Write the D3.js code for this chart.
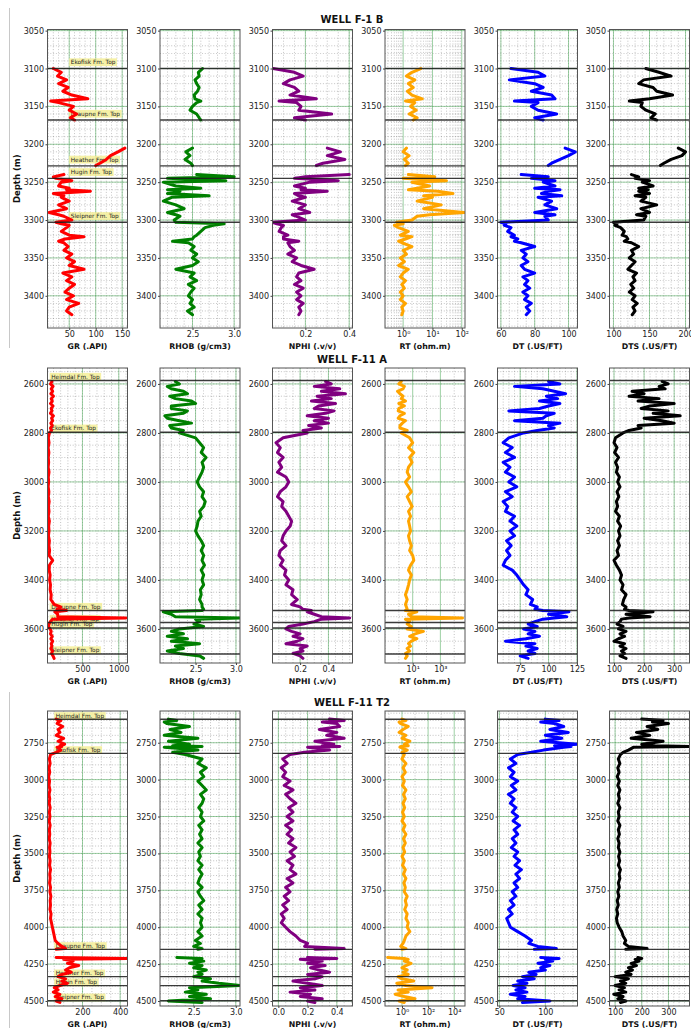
<!DOCTYPE html>
<html><head><meta charset="utf-8">
<script src="https://cdn.jsdelivr.net/npm/d3@7"></script>
<style>body{margin:0;background:#fff} svg{display:block} text{font-family:"DejaVu Sans",sans-serif}</style>
</head><body><svg id="chart" width="691" height="1028"></svg>
<script>
// ---------------- DATA ----------------
const wellNames = ["WELL F-1 B", "WELL F-11 A", "WELL F-11 T2"];
const logLabels = ["GR (.API)", "RHOB (g/cm3)", "NPHI (.v/v)", "RT (ohm.m)", "DT (.US/FT)", "DTS (.US/FT)"];
const logColors = ["red", "green", "purple", "orange", "blue", "black"];

// WELL F-1 B
const f1bDepth = [3100,3105,3110,3115,3120,3125,3130,3135,3140,3143,3145,3150,3155,3160,3165,3168,null,3205,3210,3215,3220,3225,3228,null,3240,3243,3245,3248,3250,3255,3258,3260,3262,3265,3268,3270,3275,3280,3285,3290,3293,3295,3300,3303,3305,3307,3310,3315,3320,3322,3325,3328,3330,3335,3340,3345,3350,3355,3360,3365,3370,3375,3380,3385,3390,3395,3400,3405,3410,3415,3420,3425];
const f1bGR = [20,35,28,45,30,48,38,55,85,15,30,58,50,64,52,60,null,155,142,128,120,108,100,null,40,20,25,55,35,30,50,45,90,20,40,35,50,30,45,12,30,40,55,25,35,50,45,35,50,78,42,30,40,48,40,55,45,60,50,78,38,55,45,60,50,42,58,45,68,50,45,55];
const f1bRHOB = [2.62,2.57,2.58,2.53,2.55,2.58,2.56,2.52,2.53,2.6,2.55,2.5,2.47,2.55,2.58,2.6,null,2.5,2.42,2.47,2.41,2.48,2.5,null,2.55,3.0,2.2,2.9,2.15,2.3,2.6,2.2,2.35,2.2,2.7,2.25,2.15,2.3,2.4,2.2,2.3,2.35,2.28,2.3,2.88,2.75,2.65,2.6,2.55,2.52,2.5,2.26,2.45,2.52,2.48,2.55,2.5,2.57,2.5,2.3,2.52,2.47,2.55,2.45,2.52,2.48,2.45,2.5,2.47,2.52,2.44,2.5];
const f1bNPHI = [0.053,0.15,0.19,0.13,0.1,0.15,0.17,0.13,0.25,0.08,0.16,0.18,0.17,0.32,0.15,0.2,null,0.3,0.36,0.3,0.38,0.28,0.25,null,0.4,0.2,0.15,0.35,0.22,0.15,0.2,0.18,0.3,0.15,0.17,0.2,0.14,0.2,0.17,0.22,0.14,0.16,0.2,0.05,0.07,0.1,0.09,0.08,0.12,0.1,0.1,0.17,0.12,0.13,0.15,0.12,0.16,0.14,0.18,0.24,0.17,0.16,0.18,0.15,0.19,0.16,0.18,0.16,0.19,0.17,0.18,0.17];
const f1bRT = [4,2,1.3,2.5,1.5,2.2,1.4,2,4.5,1.2,2.5,1.8,2.8,1.6,3,2.2,null,1.3,1.0,1.6,1.1,1.5,1.2,null,1.5,12,1,30,2,8,3,1.5,15,50,5,10,3,20,5,120,8,3,2,0.6,1,0.5,0.7,1.5,0.8,2,1.2,0.7,0.9,2,1,1.3,0.8,1.1,0.7,1.5,1,0.8,1.2,0.9,1.1,0.8,1,0.8,1.2,0.9,1,0.9];
const f1bDT = [66,82,86,65,80,85,78,90,92,68,82,78,82,93,80,85,null,98,104,100,95,90,88,null,72,88,78,92,85,92,80,95,88,84,96,82,90,86,93,80,92,86,88,60,63,62,66,64,68,66,70,68,72,80,72,75,73,76,72,74,80,73,76,74,77,73,76,74,78,75,77,75];
const f1bDTS = [145,163,180,142,135,155,160,182,150,122,140,138,145,158,152,160,null,190,200,195,180,170,165,null,125,135,130,150,140,155,135,148,135,150,130,145,138,160,138,150,132,145,142,100,105,102,110,115,112,118,120,115,125,135,125,128,122,130,125,120,132,127,130,124,128,122,130,126,133,127,130,126];
const f1bTops = [3100, 3168, 3228.5, 3245, 3303];
const f1bTopNames = ["Ekofisk Fm. Top", "Draupne Fm. Top", "Heather Fm. Top", "Hugin Fm. Top", "Sleipner Fm. Top"];
const f1bXDomains = [[9,160],[2.11,3.07],[0.05,0.415],[0.24,129],[58,105.3],[94.5,205.5]];
const f1bXTicks = [[50,100,150],[2.5,3.0],[0.2,0.4],[1,10,100],[60,80,100],[100,150,200]];
const f1bYDomain = [3048.5, 3442.5];
const f1bYTicks = [3050,3100,3150,3200,3250,3300,3350,3400];

// WELL F-11 A
const f11aDepth = [2590,2600,2610,2620,2630,2640,2650,2660,2670,2680,2690,2700,2710,2720,2730,2740,2750,2760,2770,2780,2790,2800,2820,2840,2860,2880,2900,2920,2940,2960,2980,3000,3020,3040,3060,3080,3100,3120,3140,3160,3180,3200,3220,3240,3260,3280,3300,3320,3340,3360,3380,3400,3420,3440,3460,3480,3500,3510,3520,3525,3530,3540,3550,3555,3560,3570,3580,3590,3600,3610,3620,3630,3640,3650,3660,3670,3680,3690,3700,3710,3720];
const f11aGR = [80,60,95,70,90,65,100,70,85,60,95,70,80,60,100,75,90,65,85,60,75,45,30,40,28,38,30,35,28,40,30,35,28,38,30,42,32,40,30,45,35,40,32,45,38,48,40,90,45,42,55,48,60,55,70,65,110,200,150,280,120,160,160,1100,90,60,40,30,55,70,60,85,65,90,70,80,65,90,75,95,110];
const f11aRHOB = [2.25,2.3,2.15,2.2,2.35,2.4,2.18,2.25,2.45,2.5,2.2,2.2,2.4,2.35,2.12,2.15,2.3,2.45,2.18,2.2,2.35,2.3,2.5,2.55,2.6,2.57,2.63,2.58,2.6,2.58,2.55,2.52,2.55,2.6,2.58,2.62,2.6,2.55,2.57,2.53,2.52,2.5,2.53,2.57,2.6,2.57,2.6,2.58,2.61,2.57,2.6,2.58,2.6,2.56,2.57,2.55,2.58,2.58,2.6,2.58,2.1,2.2,2.25,3.05,2.5,2.55,2.48,2.6,2.3,2.2,2.35,2.15,2.4,2.2,2.55,2.25,2.35,2.15,2.3,2.55,2.6];
const f11aNPHI = [0.38,0.42,0.3,0.48,0.35,0.52,0.32,0.42,0.28,0.45,0.33,0.3,0.44,0.38,0.25,0.4,0.3,0.4,0.26,0.35,0.22,0.25,0.08,0.03,0.06,0.04,0.08,0.05,0.07,0.04,0.1,0.12,0.1,0.06,0.04,0.08,0.07,0.1,0.12,0.14,0.13,0.1,0.08,0.07,0.1,0.06,0.05,0.08,0.06,0.1,0.09,0.12,0.1,0.15,0.14,0.18,0.14,0.2,0.22,0.28,0.25,0.3,0.35,0.55,0.35,0.3,0.22,0.12,0.1,0.14,0.2,0.15,0.22,0.18,0.1,0.25,0.2,0.22,0.15,0.2,0.22];
const f11aRT = [1.5,1,2.5,2,0.8,1.2,2,1.5,3,1,2.5,1,0.9,2.5,1.2,0.9,3,1.8,1.2,1.2,4,1.5,6,10,5,12,6,9,5,4,6,3,5,8,4,6,9,5,7,5,6,7,5,6,8,6,10,12,7,5,8,6,5,4,3,4,3,3.5,4,3,20,5,8,40000,3,6,4,8,4,60,15,6,20,8,5,7,4,6,3,4,3];
const f11aDT = [100,110,70,95,105,115,98,108,92,110,100,92,65,105,98,95,70,110,100,105,90,78,65,60,68,62,70,60,66,62,70,65,72,62,68,60,64,62,70,66,72,66,70,63,67,63,66,62,60,68,72,75,78,82,80,86,84,90,88,95,118,100,116,105,95,88,82,90,78,88,82,92,80,62,88,80,90,82,88,75,82];
const f11aDTS = [260,280,250,270,160,200,150,250,180,300,220,190,280,230,320,200,260,300,180,190,150,130,105,100,110,102,115,105,112,108,118,112,120,110,116,108,112,105,118,112,122,115,120,112,118,110,115,100,108,118,125,120,130,125,140,132,128,140,135,150,230,140,220,150,125,120,110,130,115,140,120,135,115,100,135,120,140,125,135,120,140];
const f11aTops = [2586, 2797, 3525, 3574, 3596, 3702];
const f11aTopNames = ["Heimdal Fm. Top", "Ekofisk Fm. Top", "Draupne Fm. Top", "Heather Fm. Top", "Hugin Fm. Top", "Sleipner Fm. Top"];
const f11aXDomains = [[19,1120],[2.06,3.05],[0.005,0.57],[0.1,60000],[55,125.5],[85,351]];
const f11aXTicks = [[500,1000],[2.5,3.0],[0.2,0.4],[10,1000],[75,100,125],[100,200,300]];
const f11aYDomain = [2535, 3739];
const f11aYTicks = [2600,2800,3000,3200,3400,3600];

// WELL F-11 T2
const f11t2Depth = [2590,2600,2610,2620,2640,2660,2680,2700,2720,2740,2760,2770,2775,2780,2800,2815,2830,2860,2890,2920,2950,2980,3010,3040,3070,3100,3130,3160,3190,3220,3250,3280,3310,3340,3370,3400,3430,3460,3490,3520,3550,3580,3610,3640,3670,3700,3730,3760,3790,3820,3850,3880,3910,3940,3970,4000,4030,4060,4090,4110,4130,4145,4150,null,4205,4212,4218,4230,4245,4260,4275,4290,4305,4320,4335,4350,4365,4380,4395,4410,4425,4440,4455,4470,4485,4500,4510];
const f11t2GR = [60,85,70,65,95,70,80,60,100,70,105,80,90,65,85,60,30,24,28,22,26,20,25,22,27,22,26,23,28,24,27,23,28,24,26,23,28,25,27,24,28,25,30,26,28,25,30,27,32,28,30,27,33,30,35,40,45,50,55,70,90,110,60,null,60,439,100,150,120,180,130,110,140,90,70,110,90,120,80,50,70,45,80,55,90,60,80];
const f11t2RHOB = [2.2,2.3,2.15,2.18,2.45,2.22,2.35,2.15,2.55,2.2,2.45,2.25,2.6,2.15,2.55,2.25,2.4,2.6,2.55,2.65,2.58,2.62,2.55,2.6,2.65,2.58,2.62,2.6,2.56,2.6,2.58,2.62,2.56,2.6,2.57,2.6,2.55,2.6,2.56,2.58,2.55,2.6,2.56,2.6,2.57,2.55,2.6,2.55,2.58,2.62,2.56,2.6,2.55,2.6,2.58,2.6,2.55,2.6,2.52,2.58,2.5,2.6,2.55,null,2.3,2.6,2.5,2.62,2.45,2.6,2.5,2.65,2.55,2.6,2.5,2.7,2.6,2.8,3.05,2.45,2.55,2.4,2.65,2.45,2.7,2.2,2.6];
const f11t2NPHI = [0.35,0.45,0.3,0.4,0.42,0.28,0.4,0.33,0.45,0.25,0.38,0.3,0.42,0.2,0.35,0.18,0.08,0.03,0.06,0.02,0.05,0.03,0.08,0.04,0.1,0.05,0.08,0.12,0.07,0.1,0.06,0.1,0.05,0.09,0.06,0.1,0.07,0.12,0.08,0.11,0.06,0.1,0.08,0.12,0.06,0.1,0.05,0.08,0.04,0.07,0.03,0.06,0.02,0.04,0.02,0.05,0.08,0.12,0.15,0.2,0.18,0.45,0.25,null,0.2,0.4,0.15,0.3,0.2,0.32,0.22,0.28,0.35,0.2,0.3,0.25,0.1,0.2,0.3,0.15,0.25,0.08,0.22,0.15,0.3,0.2,0.25];
const f11t2RT = [1,2,0.6,0.8,3,1.2,0.6,2,1,4,1.5,3,0.8,0.7,2.5,1,1.5,1,2,1.2,1.8,1,1.5,1.1,2,1.3,1.8,1.2,1.6,1.1,1.5,1,1.7,1.2,2,1.3,1.8,1.2,1.6,1,1.5,1.1,1.8,1.3,2,1.4,1.8,1.5,2.5,1.8,2.2,1.6,2.5,2,3,2.5,4,2,1.5,1.2,0.8,2,1,null,0.08,1.5,3,1.5,5,2,1,2.5,1.2,3,0.5,1,8,0.4,2,200,0.5,3,0.3,1.5,10,0.6,1.5];
const f11t2DT = [100,115,95,110,120,105,125,100,118,95,135,110,128,120,98,85,70,62,68,60,66,62,70,63,68,60,66,62,68,64,70,65,72,66,70,64,68,63,70,66,72,67,74,68,72,66,70,64,68,62,66,60,64,58,60,62,70,78,85,82,92,112,88,null,95,115,100,108,92,105,95,100,82,90,75,88,70,80,65,78,68,80,62,78,70,105,75];
const f11t2DTS = [200,280,240,300,220,260,180,230,160,280,200,250,379,170,150,130,120,112,118,110,115,108,116,110,118,112,116,110,118,112,115,110,118,112,116,110,115,112,118,113,117,112,120,115,118,112,116,110,114,108,112,106,110,105,108,115,125,130,140,135,150,220,140,null,185,200,175,190,160,180,150,165,140,160,100,150,120,140,100,135,115,140,95,130,110,140,120];
const f11t2Tops = [2591, 2822, 4150, 4335, 4396, 4498];
const f11t2TopNames = ["Heimdal Fm. Top", "Ekofisk Fm. Top", "Draupne Fm. Top", "Heather Fm. Top", "Hugin Fm. Top", "Sleipner Fm. Top"];
const f11t2XDomains = [[14,439],[2.1,3.05],[-0.04,0.507],[0.05,67000],[48,135],[79,379]];
const f11t2XTicks = [[200,400],[2.5,3.0],[0.0,0.2,0.4],[1,100,10000],[50,100],[100,200,300]];
const f11t2YDomain = [2535, 4534];
const f11t2YTicks = [2750,3000,3250,3500,3750,4000,4250,4500];

// ---------------- LAYOUT / DRAWING ----------------
const svg = d3.select("#chart");
svg.append("rect").attr("width", 691).attr("height", 1028).attr("fill", "#fff");
const trackLeft = [47.5, 160, 272.5, 385, 497.5, 609.5];
const trackW = 80;

const wells = [
  { title: wellNames[0], depth: f1bDepth, logs: [f1bGR, f1bRHOB, f1bNPHI, f1bRT, f1bDT, f1bDTS],
    xDom: f1bXDomains, xTicks: f1bXTicks, yDom: f1bYDomain, yTicks: f1bYTicks, tops: f1bTops, topNames: f1bTopNames,
    L: { top: 29.5, bottom: 328, titleY: 23, sep: [8, 348], yMinor: 10, xMinor: [10, 0.1, 0.05, "subs", 5, 10] } },
  { title: wellNames[1], depth: f11aDepth, logs: [f11aGR, f11aRHOB, f11aNPHI, f11aRT, f11aDT, f11aDTS],
    xDom: f11aXDomains, xTicks: f11aXTicks, yDom: f11aYDomain, yTicks: f11aYTicks, tops: f11aTops, topNames: f11aTopNames,
    L: { top: 368, bottom: 663, titleY: 363, sep: null, yMinor: 50, xMinor: [100, 0.1, 0.05, "decades", 5, 20] } },
  { title: wellNames[2], depth: f11t2Depth, logs: [f11t2GR, f11t2RHOB, f11t2NPHI, f11t2RT, f11t2DT, f11t2DTS],
    xDom: f11t2XDomains, xTicks: f11t2XTicks, yDom: f11t2YDomain, yTicks: f11t2YTicks, tops: f11t2Tops, topNames: f11t2TopNames,
    L: { top: 711, bottom: 1006, titleY: 706, sep: [692, 1028], yMinor: 50, xMinor: [50, 0.1, 0.05, "decades", 10, 20] } }
];

const supMap = {"-2":"⁻²","-1":"⁻¹","0":"⁰","1":"¹","2":"²","3":"³","4":"⁴","5":"⁵"};
const fmts = [d3.format("d"), d3.format(".1f"), d3.format(".1f"),
  v => "10" + supMap[String(Math.round(Math.log10(v)))], d3.format("d"), d3.format("d")];

function stepRange(d0, d1, step) {
  const a = Math.ceil(d0 / step - 1e-9), b = Math.floor(d1 / step + 1e-9);
  return d3.range(a, b + 1).map(k => +(k * step).toFixed(6));
}

wells.forEach((w, wi) => {
  const L = w.L;
  const y = d3.scaleLinear().domain(w.yDom).range([L.top, L.bottom]);
  const pxPerM = (L.bottom - L.top) / (w.yDom[1] - w.yDom[0]);
  const g = svg.append("g");
  g.append("text").attr("x", 352).attr("y", L.titleY).attr("text-anchor", "middle")
    .attr("font-weight", "bold").attr("font-size", 10).attr("fill", "#111").text(w.title);
  if (L.sep) g.append("line").attr("x1", 9.5).attr("x2", 9.5).attr("y1", L.sep[0]).attr("y2", L.sep[1])
    .attr("stroke", "#c8c8c8").attr("stroke-width", 1);
  g.append("text").attr("transform", `translate(20,${(L.top + L.bottom) / 2}) rotate(-90)`)
    .attr("text-anchor", "middle").attr("font-weight", "bold").attr("font-size", 8.5).attr("fill", "#111").text("Depth (m)");

  const data = w.depth.map((d, k) => k);
  const minorY = stepRange(w.yDom[0], w.yDom[1], L.yMinor);

  w.logs.forEach((vals, i) => {
    const x0 = trackLeft[i], x1 = x0 + trackW;
    const x = (i === 3 ? d3.scaleLog() : d3.scaleLinear()).domain(w.xDom[i]).range([x0, x1]);
    const tg = g.append("g");
    const clipId = `clip${wi}_${i}`;
    tg.append("clipPath").attr("id", clipId).append("rect")
      .attr("x", x0).attr("y", L.top).attr("width", trackW).attr("height", L.bottom - L.top);
    const grid = tg.append("g").attr("clip-path", `url(#${clipId})`);

    // minor x grid
    let minorX;
    if (i === 3) {
      const lo = Math.floor(Math.log10(w.xDom[i][0])), hi = Math.ceil(Math.log10(w.xDom[i][1]));
      minorX = [];
      for (let e = lo; e <= hi; e++) {
        const base = Math.pow(10, e);
        if (!w.xTicks[i].some(t => Math.abs(t - base) / base < 1e-6)) minorX.push(base);
        if (L.xMinor[i] === "subs") for (let s = 2; s <= 9; s++) minorX.push(s * base);
      }
      minorX = minorX.filter(v => v >= w.xDom[i][0] && v <= w.xDom[i][1]);
    } else {
      minorX = stepRange(w.xDom[i][0], w.xDom[i][1], L.xMinor[i]);
    }
    grid.selectAll("line.mx").data(minorX).join("line").attr("class", "mx")
      .attr("x1", d => x(d)).attr("x2", d => x(d)).attr("y1", L.top).attr("y2", L.bottom)
      .attr("stroke", "#333").attr("stroke-width", 0.7).attr("stroke-dasharray", "1,1.8").attr("opacity", 0.42);
    grid.selectAll("line.my").data(minorY).join("line").attr("class", "my")
      .attr("x1", x0).attr("x2", x1).attr("y1", d => y(d)).attr("y2", d => y(d))
      .attr("stroke", "#333").attr("stroke-width", 0.7).attr("stroke-dasharray", "1,1.8").attr("opacity", 0.42);
    // major grid (green)
    grid.selectAll("line.gx").data(w.xTicks[i]).join("line").attr("class", "gx")
      .attr("x1", d => x(d)).attr("x2", d => x(d)).attr("y1", L.top).attr("y2", L.bottom)
      .attr("stroke", "#3fa34d").attr("stroke-width", 1).attr("opacity", 0.5);
    grid.selectAll("line.gy").data(w.yTicks).join("line").attr("class", "gy")
      .attr("x1", x0).attr("x2", x1).attr("y1", d => y(d)).attr("y2", d => y(d))
      .attr("stroke", "#3fa34d").attr("stroke-width", 1).attr("opacity", 0.5);

    // formation top labels (GR track, beneath the curve)
    if (i === 0) {
      const lab = tg.append("g");
      w.tops.forEach((t, k) => {
        const yc = y(t) - (2.5 + 5 * pxPerM);
        const tx = x(50) + 1.5;
        const txt = lab.append("text").attr("x", tx).attr("y", yc).attr("dy", "0.35em")
          .attr("font-size", 5.8).attr("fill", "#222").text(w.topNames[k]);
        const len = txt.node().getComputedTextLength();
        lab.insert("rect", "text").attr("x", tx - 1.6).attr("y", yc - 3.9).attr("width", len + 3.2).attr("height", 7.8)
          .attr("fill", "#f4ee98").attr("opacity", 0.85);
      });
      lab.selectAll("text").raise();
    }

    // curve
    const line = d3.line()
      .defined(k => w.depth[k] != null && vals[k] != null)
      .x(k => x(vals[k])).y(k => y(w.depth[k]));
    tg.append("path").datum(data).attr("clip-path", `url(#${clipId})`)
      .attr("d", line).attr("fill", "none").attr("stroke", logColors[i])
      .attr("stroke-width", 3).attr("stroke-linejoin", "round").attr("stroke-linecap", "round");

    // formation top lines
    tg.selectAll("line.top").data(w.tops).join("line").attr("class", "top")
      .attr("x1", x0).attr("x2", x1).attr("y1", d => y(d)).attr("y2", d => y(d))
      .attr("stroke", "#1a1a1a").attr("stroke-width", 1.4).attr("opacity", 0.85);

    // frame
    tg.append("rect").attr("x", x0).attr("y", L.top).attr("width", trackW).attr("height", L.bottom - L.top)
      .attr("fill", "none").attr("stroke", "#555").attr("stroke-width", 1);

    // axes
    const ya = d3.axisLeft(y).tickValues(w.yTicks).tickSize(2).tickPadding(1.5).tickFormat(d3.format("d"));
    const yg = tg.append("g").attr("transform", `translate(${x0},0)`).call(ya);
    yg.select(".domain").remove();
    yg.attr("font-size", 8).attr("font-family", "DejaVu Sans");
    yg.selectAll("text").attr("fill", "#222");
    yg.selectAll("line").attr("stroke", "#444");

    const xa = d3.axisBottom(x).tickValues(w.xTicks[i]).tickSize(2).tickPadding(1.8).tickFormat(fmts[i]);
    const xg = tg.append("g").attr("transform", `translate(0,${L.bottom})`).call(xa);
    xg.select(".domain").remove();
    xg.attr("font-size", 8).attr("font-family", "DejaVu Sans");
    xg.selectAll("text").attr("fill", "#222");
    xg.selectAll("line").attr("stroke", "#444");

    tg.append("text").attr("x", x0 + trackW / 2).attr("y", L.bottom + 20.5).attr("text-anchor", "middle")
      .attr("font-weight", "bold").attr("font-size", 7.8).attr("fill", "#111").text(logLabels[i]);
  });
});
</script>
</body></html>
